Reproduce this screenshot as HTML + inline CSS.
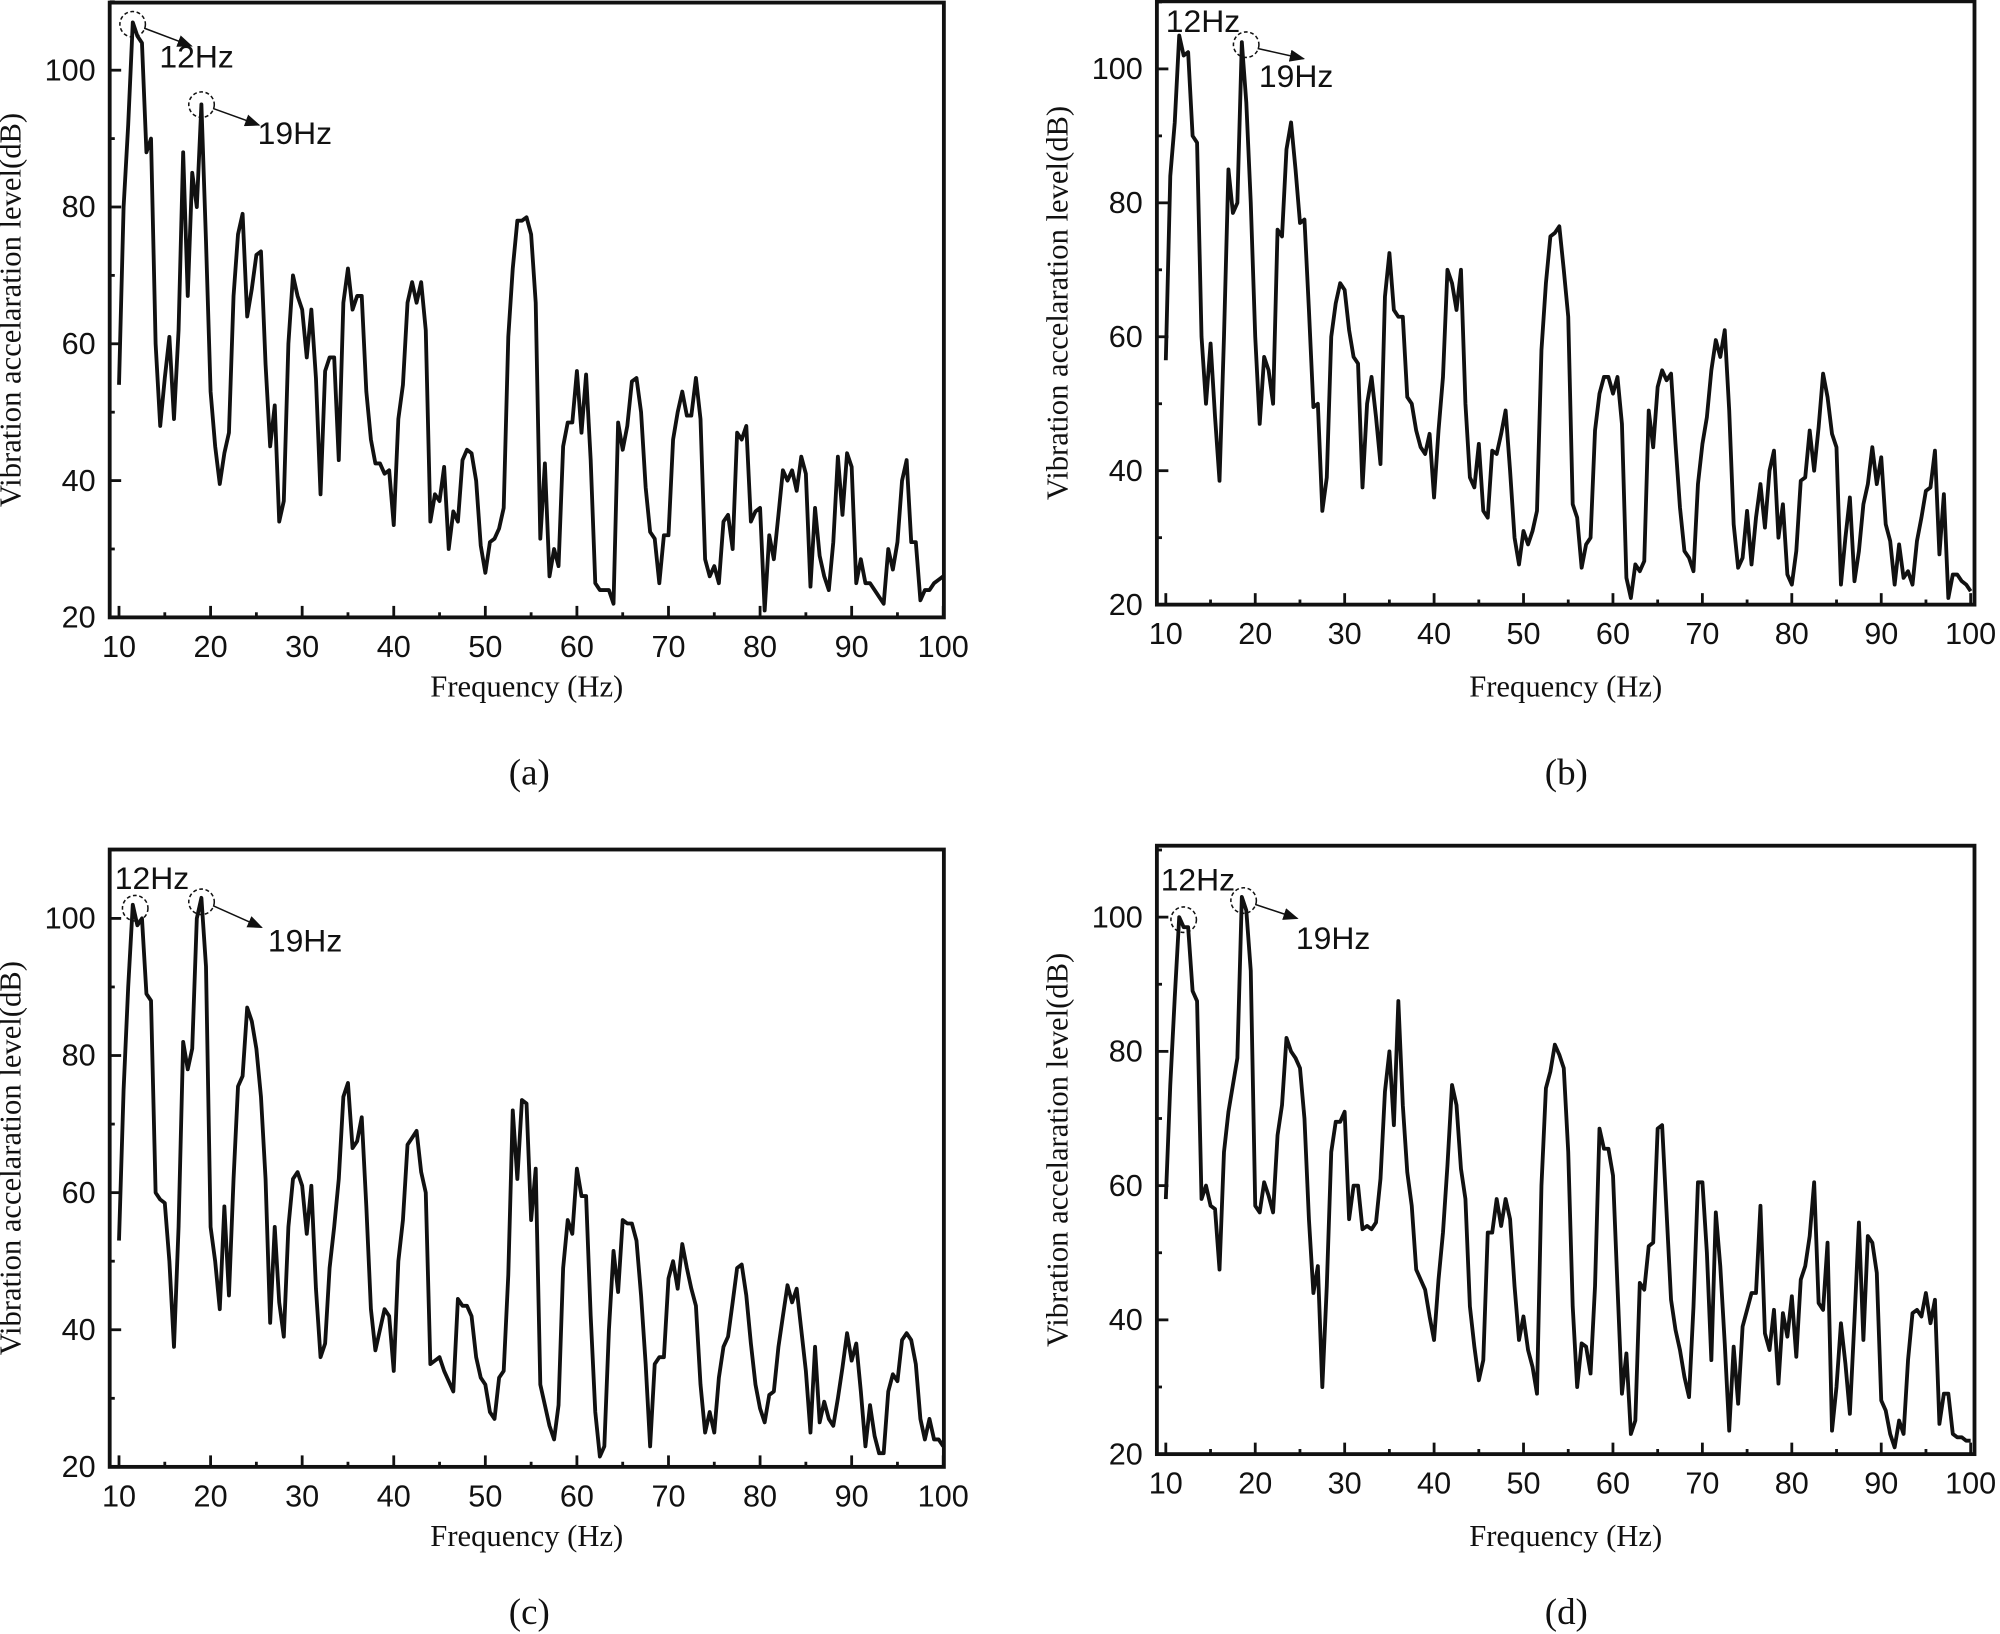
<!DOCTYPE html>
<html><head><meta charset="utf-8"><style>
html,body{margin:0;padding:0;background:#fff;}
svg{display:block;}
.tk{font-family:"Liberation Sans",Arial,sans-serif;font-size:24px;fill:#111;}
.ti{font-family:"Liberation Serif","Times New Roman",serif;font-size:24px;fill:#111;}
.cap{font-family:"Liberation Serif","Times New Roman",serif;font-size:29px;fill:#111;}
.ann{font-family:"Liberation Sans",Arial,sans-serif;font-size:25px;fill:#111;}
</style></head><body>
<svg id="fig" width="2000" height="1634" viewBox="0 0 1568 1281" xmlns="http://www.w3.org/2000/svg">
<defs><marker id="arr" markerWidth="10" markerHeight="8" refX="9" refY="4" orient="auto"><path d="M0,0 L10,4 L0,8 Z" fill="#111"/></marker></defs>
</svg>
<script>
const xTicks=[10,20,30,40,50,60,70,80,90,100];
const yTicks=[20,40,60,80,100];
const seriesA=[54,80,92,107,105,104,88,90,60,48,55,61,49,62,88,67,85,80,95,75,53,45,39.5,44,47,67,76,79,64,68,73,73.5,57,45,51,34,37,60,70,67,65,58,65,55,38,56,58,58,43,66,71,65,67,67,53,46,42.5,42.5,41,41.5,33.5,49,54,66,69,66,69,62,34,38,37,42,30,35.5,34,43,44.5,44,40,30.5,26.5,31,31.5,33,36,61,71,78,78,78.5,76,66,31.5,42.5,26,30,27.5,45,48.5,48.5,56,47,55.5,43,25,24,24,24,22,48.5,44.5,48,54.5,55,50,39,32.5,31.5,25,32,32,46,50,53,49.5,49.5,55,49,28.5,26,27.5,25,34,35,30,47,46,48,34,35.5,36,21,32,28.5,35,41.5,40,41.5,38.5,43.5,41,24.5,36,29,26,24,31,43.5,35,44,42,25,28.5,25,25,24,23,22,30,27,31,40,43,31,31,22.5,24,24,25,25.5,26];
const seriesB=[56.5,84,92,105,102,102.5,90,89,60,50,59,48,38.5,60,85,78.5,80,104,95,80,60,47,57,55,50,76,75,88,92,85,77,77.5,64,49.5,50,34,39,60,65,68,67,61,57,56,37.5,50,54,48,41,66,72.5,64,63,63,51,50,46,43.5,42.5,45.5,36,46,54,70,68,64,70,50,39,37.5,44,34,33,43,42.5,45.5,49,40,30,26,31,29,31,34,58,68,75,75.5,76.5,70,63,35,33,25.5,29,30,46,51.5,54,54,51.5,54,47,24,21,26,25,26.5,49,43.5,52.5,55,53.5,54.5,44,34.5,28,27,25,38,44,48,55,59.5,57,61,49,32,25.5,27,34,26,33,38,31.5,40,43,30,35,24.5,23,28,38.5,39,46,40,46.5,54.5,51,45.5,43.5,23,30,36,23.5,28,35,38,43.5,38,42,32,29.5,23,29,24,25,23,29.5,33,37,37.5,43,27.5,36.5,21,24.5,24.5,23.5,23,22];
const seriesC=[53,75,90,102,99,100,89,88,60,59,58.5,50,37.5,55,82,78,81,100,103,93,55,50,43,58,45,62,75.5,77,87,85,81,74,62,41,55,44,39,55,62,63,61,54,61,46,36,38,49,55,62,74,76,66.5,67.5,71,58,43,37,40,43,42,34,50,56,67,68,69,63,60,35,35.5,36,34,32.5,31,44.5,43.5,43.5,42,36,33,32,28,27,33,34,48,72,62,73.5,73,56,63.5,32,29,26,24,29,49,56,54,63.5,59.5,59.5,42,28,21.5,23,40,51.5,45.5,56,55.5,55.5,53,45,35,23,35,36,36,47.5,50,46,52.5,49,46,43.5,32,25,28,25,33,37.5,39,44,49,49.5,45,38,32,28.5,26.5,30.5,31,37.5,42,46.5,44,46,40,34,25,37.5,26.5,29.5,27,26,30,34.5,39.5,35.5,38,31,23,29,24.5,22,22,31,33.5,32.5,38.5,39.5,38.5,35,27,24,27,24,24,23];
const seriesD=[58,75,88,100,98.5,98.5,89,87.5,58,60,57,56.5,47.5,65,71,75,79,103,101,92,57,56,60.5,58.5,56,67.5,72,82,80,79,77.5,70,55,44,48,30,45,65,69.5,69.5,71,55,60,60,53.5,54,53.5,54.5,61,74,80,69,87.5,72,62,57,47.5,46,44.5,40.5,37,46,53,63,75,72,62.5,58,42,36,31,34,53,53,58,54,58,55,45,37,40.5,35.5,33,29,60,74.5,77,81,79.5,77.5,65,42,30,36.5,36,32,45,68.5,65.5,65.5,61.5,45,29,35,23,25,45.5,44.5,51,51.5,68.5,69,56,43,38.5,35.5,31.5,28.5,42,60.5,60.5,50,34,56,48,36.5,23.5,36,27.5,39,41.5,44,44,57,38,35.5,41.5,30.5,41,37.5,43.5,34.5,46,48,52.5,60.5,42.5,41.5,51.5,23.5,30,39.5,33.5,26,40,54.5,37,52.5,51.5,47,28,26.5,23,21,25,23,34,41,41.5,40.5,44,39.5,43,24.5,29,29,23,22.5,22.5,22,22];

const panels=[
 {id:'a',data:seriesA,L:86,R:740,x10:93.3,x100:739.5,T:2,B:484,y20:484,y100:55,xtY:62,cap:[415,615],
  ann:[{c:[104,19],a:[150,36],t:[125,53],s:'12Hz'},{c:[158,82],a:[203,98],t:[202,113],s:'19Hz'}]},
 {id:'b',data:seriesB,L:907,R:1548,x10:914,x100:1545,T:1,B:474,y20:474,y100:54,xtY:72,cap:[1228,615],
  ann:[{c:null,a:null,t:[914,25],s:'12Hz'},{c:[977,35],a:[1022,46],t:[987,68],s:'19Hz'}]},
 {id:'c',data:seriesC,L:86,R:740,x10:93.3,x100:739.5,T:666,B:1150,y20:1150,y100:720,xtY:62,cap:[415,1273],
  ann:[{c:[106,712],a:null,t:[90,697],s:'12Hz'},{c:[158,707],a:[205,727],t:[210,746],s:'19Hz'}]},
 {id:'d',data:seriesD,L:907,R:1548,x10:914,x100:1545,T:663,B:1140,y20:1140,y100:719,xtY:72,cap:[1228,1273],
  ann:[{c:[928,721],a:null,t:[910,698],s:'12Hz'},{c:[975,706],a:[1017,720],t:[1016,744],s:'19Hz'}]}
];
const NS='http://www.w3.org/2000/svg';
const svg=document.getElementById('fig');
function mk(tag,attrs,parent,text){const e=document.createElementNS(NS,tag);for(const k in attrs)e.setAttribute(k,attrs[k]);if(text!==undefined)e.textContent=text;(parent||svg).appendChild(e);return e;}
panels.forEach(p=>{
 const xs=v=>p.x10+(v-10)*(p.x100-p.x10)/90;
 const ys=v=>p.y20-(v-20)*(p.y20-p.y100)/80;
 const g=mk('g',{});
 
 
 for(let v=10;v<=100;v+=5){const maj=v%10===0;const t=mk('line',{x1:xs(v),x2:xs(v),y1:p.B,y2:p.B-(maj?9:4),stroke:'#111','stroke-width':2.2},g);
  }
 for(let v=20;v<=110;v+=10){const maj=v%20===0;const t=mk('line',{x1:p.L,x2:p.L+(maj?9:4),y1:ys(v),y2:ys(v),stroke:'#111','stroke-width':2.2},g);
  }
 xTicks.forEach(v=>{const t=mk('text',{x:xs(v),y:p.B+31,'text-anchor':'middle',class:'tk'},g,String(v));
  });
 yTicks.forEach(v=>{const t=mk('text',{x:p.L-11,y:ys(v)+8,'text-anchor':'end',class:'tk'},g,String(v));
  });
 let d='';p.data.forEach((v,i)=>{const f=10+0.5*i;d+=(i?'L':'M')+xs(f).toFixed(1)+','+ys(v).toFixed(1);});
 const ln=mk('path',{d:d,fill:'none',stroke:'#111','stroke-width':3,'stroke-linejoin':'round'},g);
 
 
 const fr=mk('rect',{x:p.L,y:p.T,width:p.R-p.L,height:p.B-p.T,fill:'none',stroke:'#111','stroke-width':3},g);
 
 
 const xt=mk('text',{x:(p.L+p.R)/2,y:p.B+p.xtY,'text-anchor':'middle',class:'ti'},g,'Frequency (Hz)');
 
 
 const cy=(p.T+p.B)/2,cx=p.L-70;
 const yt=mk('text',{x:cx,y:cy,'text-anchor':'middle',class:'ti',transform:'rotate(-90 '+cx+' '+cy+')'},g,'Vibration accelaration level(dB)');
 
 
 const cp=mk('text',{x:p.cap[0],y:p.cap[1],'text-anchor':'middle',class:'cap'},g,'('+p.id+')');
 
 
 p.ann.forEach(a=>{
  if(a.c){const c=mk('circle',{cx:a.c[0],cy:a.c[1],r:10,fill:'none',stroke:'#111','stroke-width':1.2,'stroke-dasharray':'3,2'},g);
   }
  if(a.a){const l=mk('line',{x1:a.c[0]+9,y1:a.c[1]+3,x2:a.a[0],y2:a.a[1],stroke:'#111','stroke-width':1.2,'marker-end':'url(#arr)'},g);
   }
  const t=mk('text',{x:a.t[0],y:a.t[1],class:'ann'},g,a.s);
  
 });
});
</script>
</body></html>
